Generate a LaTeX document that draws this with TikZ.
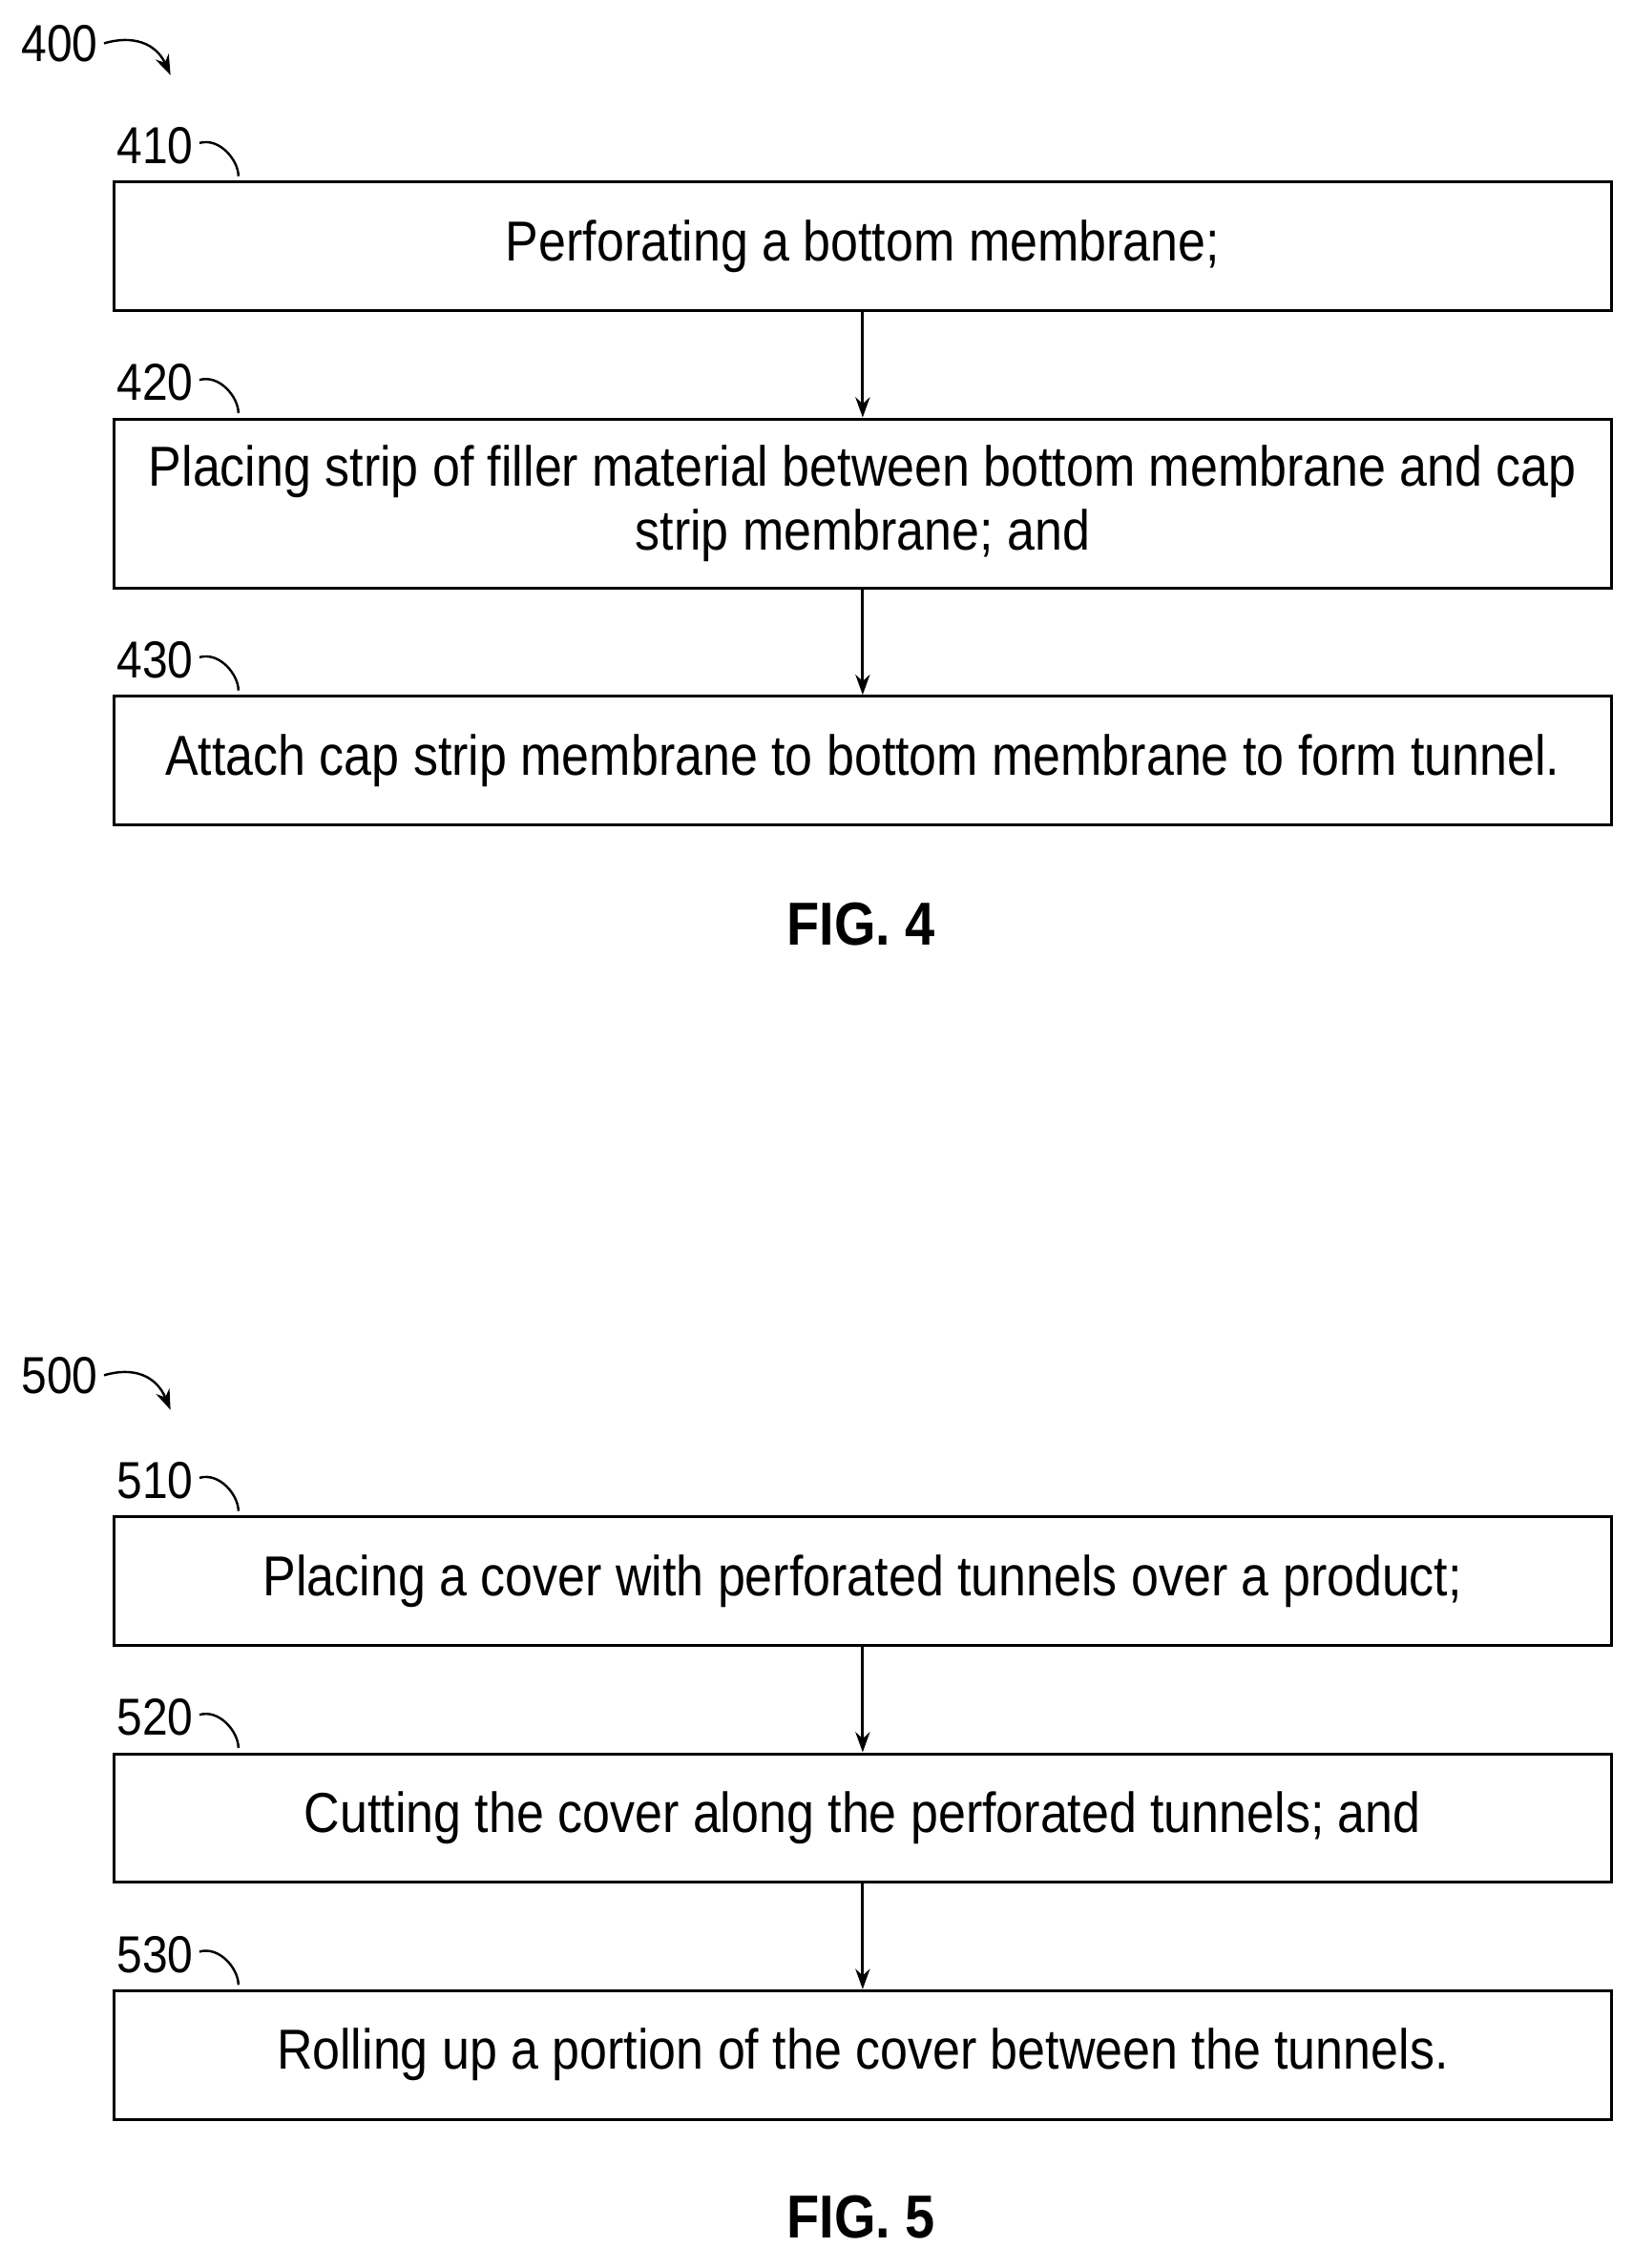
\documentclass[tikz,border=0pt]{standalone}
\usepackage{fontspec}
\setmainfont{Liberation Sans}[FakeStretch=0.88]
\usetikzlibrary{arrows.meta}
\begin{document}
\begin{tikzpicture}[x=1pt,y=-1pt,
  box/.style={draw,line width=2pt,minimum width=1036pt,anchor=north west,inner sep=0pt,align=center,font=\fontsize{39}{44}\selectfont},
  lab/.style={font=\fontsize{36}{40}\selectfont,anchor=east,inner sep=0pt},
  fig/.style={font=\bfseries\fontsize{42}{46}\selectfont},
  arr/.style={line width=2pt,-{Stealth[length=14pt,width=10pt]}},
  hook/.style={line width=1.6pt}]
\useasboundingbox (0,0) rectangle (1130,1570);
% FIG 4
\node[lab] (l400) at (68,30) {400};
\coordinate (e400) at (118,52);
\draw[arr,line width=1.6pt] (l400.east) ++(4,0) .. controls (92,24) and (108,30) .. (e400);
\node[box,minimum height=89pt] (b410) at (78,125) {Perforating a bottom membrane;};
\node[box,minimum height=117pt] (b420) at (78,289) {Placing strip of filler material between bottom membrane and cap\\strip membrane; and};
\node[box,minimum height=89pt] (b430) at (78,481) {Attach cap strip membrane to bottom membrane to form tunnel.};
\foreach \n/\y in {410/125,420/289,430/481}{
  \node[lab] (l\n) at (134,\y-24) {\n};
  \draw[hook] (l\n.east) ++(4,-2) .. controls (152,\y-30) and (165,\y-14) .. (165,\y-3);
}
\draw[arr] (b410) -- (b420);
\draw[arr] (b420) -- (b430);
\node[fig] (f4) at (596,640) {FIG. 4};
% FIG 5
\node[lab] (l500) at (68,952) {500};
\coordinate (e500) at (118,976);
\draw[arr,line width=1.6pt] (l500.east) ++(4,0) .. controls (92,946) and (108,952) .. (e500);
\node[box,minimum height=89pt] (b510) at (78,1049) {Placing a cover with perforated tunnels over a product;};
\node[box,minimum height=89pt] (b520) at (78,1213) {Cutting the cover along the perforated tunnels; and};
\node[box,minimum height=89pt] (b530) at (78,1377) {Rolling up a portion of the cover between the tunnels.};
\foreach \n/\y in {510/1049,520/1213,530/1377}{
  \node[lab] (l\n) at (134,\y-24) {\n};
  \draw[hook] (l\n.east) ++(4,-2) .. controls (152,\y-30) and (165,\y-14) .. (165,\y-3);
}
\draw[arr] (b510) -- (b520);
\draw[arr] (b520) -- (b530);
\node[fig] (f5) at (596,1535) {FIG. 5};
\end{tikzpicture}
\end{document}
